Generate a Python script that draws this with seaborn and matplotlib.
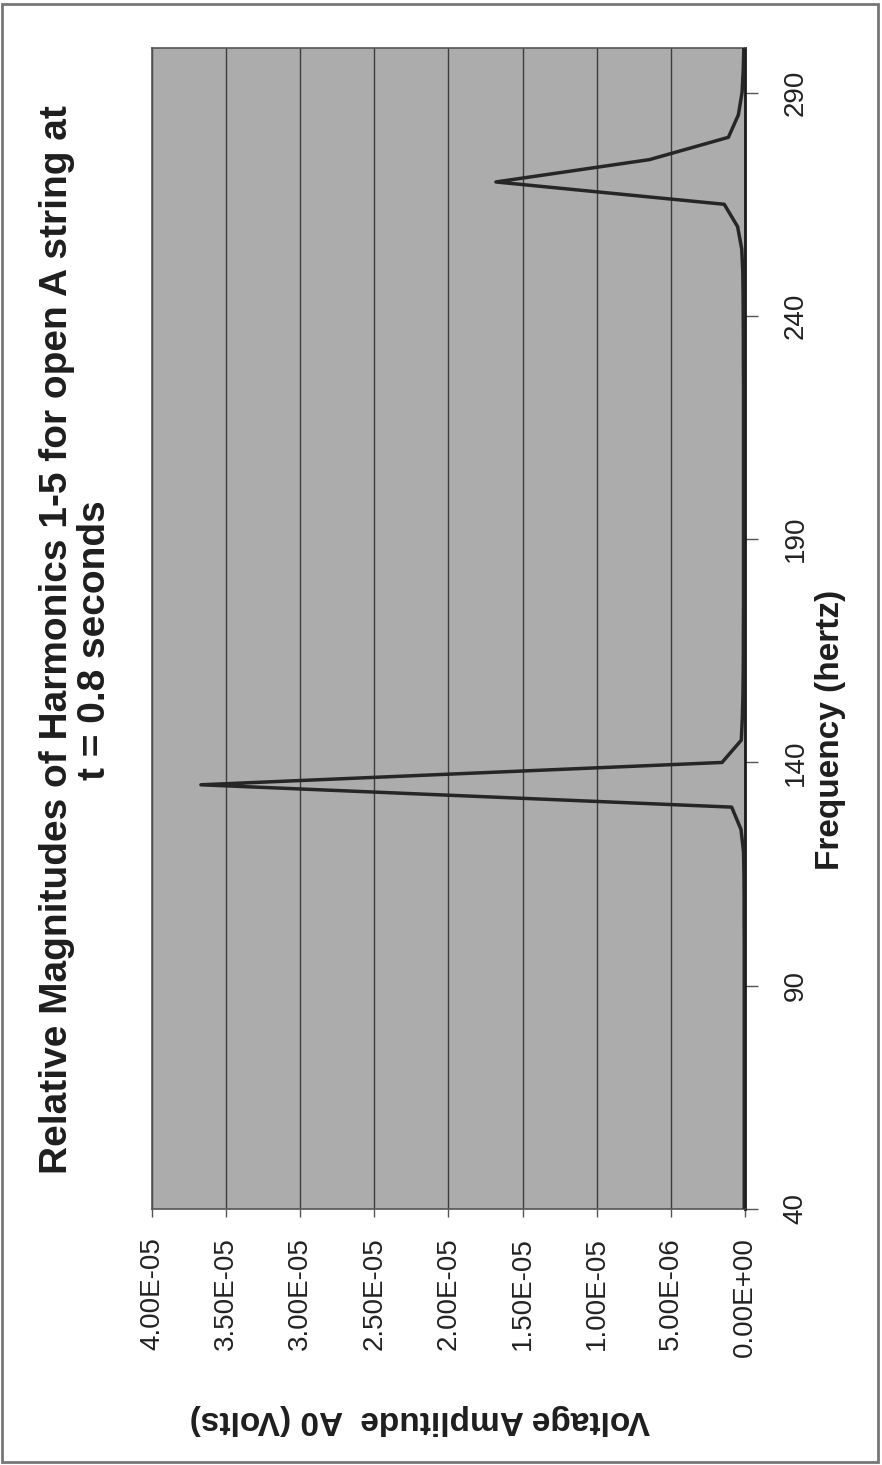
import matplotlib
matplotlib.use("Agg")
import matplotlib.pyplot as plt
from matplotlib.patches import Rectangle
import seaborn as sns
import pandas as pd

# ---------------- data ----------------
freq_hz = [40, 45, 50, 55, 60, 65, 70, 75, 80, 85, 90, 95, 100, 105, 110, 115,
           120, 125, 130, 135, 140, 145, 150, 155, 160, 165, 170, 175, 180, 185,
           190, 195, 200, 205, 210, 215, 220, 225, 230, 235, 240, 245, 250, 255,
           260, 265, 270, 275, 280, 285, 290, 295, 300]
amplitude_v = [0.05e-6, 0.05e-6, 0.05e-6, 0.05e-6, 0.05e-6, 0.05e-6, 0.05e-6,
               0.05e-6, 0.05e-6, 0.05e-6, 0.05e-6, 0.05e-6, 0.05e-6, 0.06e-6,
               0.06e-6, 0.07e-6, 0.10e-6, 0.27e-6, 0.90e-6, 3.67e-5, 1.55e-6,
               0.25e-6, 0.18e-6, 0.14e-6, 0.12e-6, 0.11e-6, 0.11e-6, 0.10e-6,
               0.10e-6, 0.10e-6, 0.10e-6, 0.10e-6, 0.10e-6, 0.10e-6, 0.10e-6,
               0.10e-6, 0.10e-6, 0.10e-6, 0.11e-6, 0.11e-6, 0.12e-6, 0.13e-6,
               0.15e-6, 0.22e-6, 0.50e-6, 1.40e-6, 1.68e-5, 6.45e-6, 1.12e-6,
               0.45e-6, 0.20e-6, 0.12e-6, 0.08e-6]
volt_ticks = [0.0, 5e-6, 1e-5, 1.5e-5, 2e-5, 2.5e-5, 3e-5, 3.5e-5, 4e-5]
volt_labels = ["0.00E+00", "5.00E-06", "1.00E-05", "1.50E-05", "2.00E-05",
               "2.50E-05", "3.00E-05", "3.50E-05", "4.00E-05"]
freq_ticks = [40, 90, 140, 190, 240, 290]
freq_labels = ["40", "90", "140", "190", "240", "290"]

title = "Relative Magnitudes of Harmonics 1-5 for open A string at\nt = 0.8 seconds"
xlabel = "Frequency (hertz)"
ylabel = "Voltage Amplitude  A0 (Volts)"

# ---------------- style ----------------
sns.set_theme(style="white")
plt.rcParams['font.family'] = ['Liberation Sans', 'DejaVu Sans']

W, H = 882, 1465
fig = plt.figure(figsize=(W / 100, H / 100), dpi=100)
fig.patch.set_facecolor("white")

L, R, T, B = 152, 745, 48, 1209
ax = fig.add_axes([L / W, 1 - B / H, (R - L) / W, (B - T) / H])
ax.set_facecolor("#acacac")

df = pd.DataFrame({"freq": freq_hz, "volts": amplitude_v})
sns.lineplot(data=df, x="volts", y="freq", orient="y", color="#262626",
             linewidth=2.5, ax=ax, zorder=3)

ax.set_xlim(4e-5, 0)
ax.set_ylim(40, 300)

ax.set_xticks(volt_ticks)
ax.set_xticklabels(volt_labels, rotation=90)
ax.yaxis.tick_right()
ax.set_yticks(freq_ticks)
ax.set_yticklabels(freq_labels, rotation=90, va="center")

ax.grid(axis="x", color="#3c3c3c", linewidth=1.0)
ax.grid(axis="y", visible=False)
ax.set_axisbelow(True)

ax.tick_params(axis="x", direction="out", length=6, width=1, color="#555555",
               pad=14, labelsize=20, labelcolor="#222222", bottom=True)
ax.tick_params(axis="y", direction="out", length=9, width=1, color="#555555",
               pad=18, labelsize=20, labelcolor="#222222", right=True, left=False)

for s in ["top", "left", "bottom"]:
    ax.spines[s].set_color("#555555")
    ax.spines[s].set_linewidth(1.2)
ax.spines["right"].set_color("#1a1a1a")
ax.spines["right"].set_linewidth(2.0)

ax.set_xlabel("")
ax.set_ylabel("")

# titles and axis titles (rotated like the reference page)
fig.text(76 / W, 1 - 640 / H, title, rotation=90, ha="center", va="center",
         multialignment="center", fontsize=28, fontweight="bold",
         color="#1e1e1e", linespacing=1.1)
fig.text(831 / W, 1 - 730 / H, xlabel, rotation=90, ha="center", va="center",
         fontsize=24, fontweight="bold", color="#1e1e1e")
fig.text(420 / W, 1 - 1420 / H, ylabel, rotation=180, ha="center", va="center",
         fontsize=24, fontweight="bold", color="#1e1e1e")

# page frame
fig.add_artist(Rectangle((2 / W, 3 / H), 876 / W, 1458 / H, transform=fig.transFigure,
                         fill=False, edgecolor="#777777", linewidth=2))

fig.savefig("out.png", dpi=100, facecolor="white")
